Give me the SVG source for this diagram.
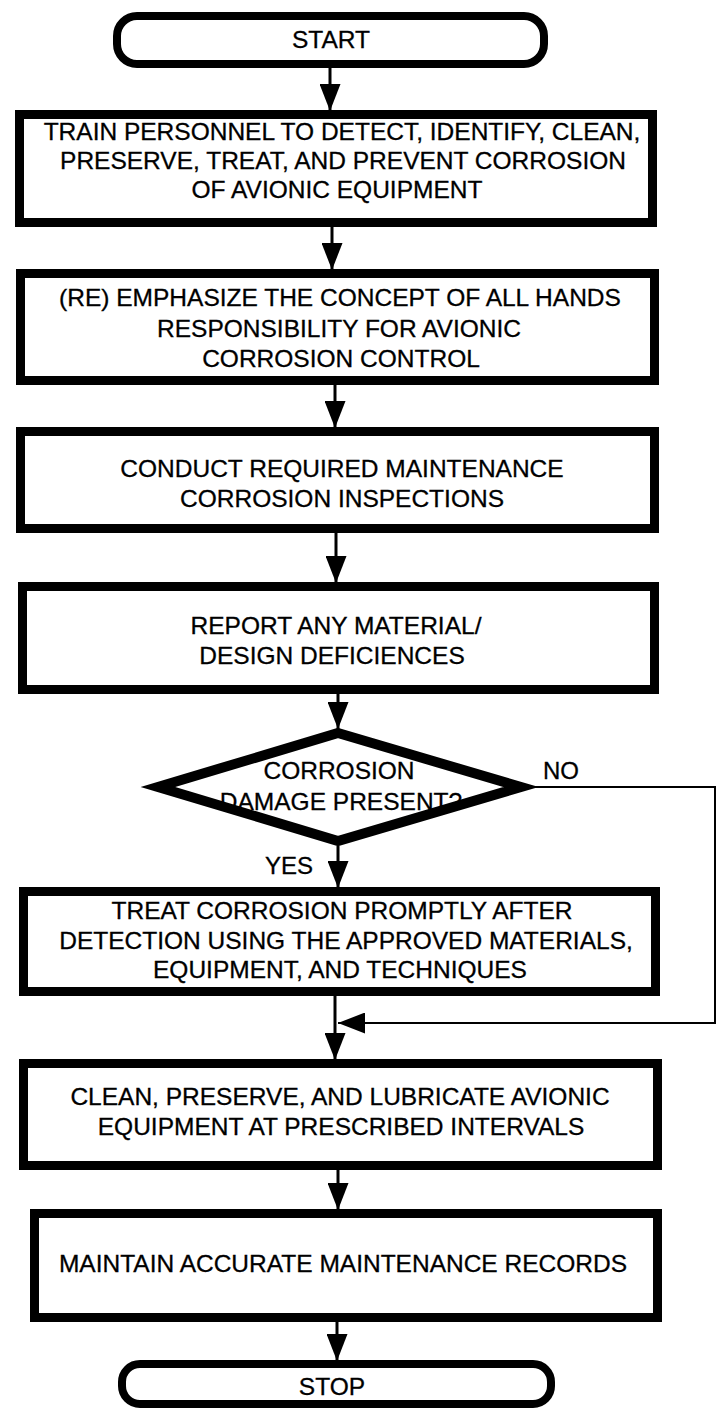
<svg xmlns="http://www.w3.org/2000/svg" width="719" height="1426" viewBox="0 0 719 1426">
<style>
  .box { fill: #fff; stroke: #000; stroke-width: 9; }
  .term { fill: #fff; stroke: #000; stroke-width: 8; }
  .dia { fill: #fff; stroke: #000; stroke-width: 10; stroke-linejoin: miter; stroke-miterlimit: 6; }
  .t { font-family: "Liberation Sans", Arial, Helvetica, sans-serif; font-size: 24.5px; fill: #000; stroke: #000; stroke-width: 0.3; text-anchor: middle; }
  .lbl { font-family: "Liberation Sans", Arial, Helvetica, sans-serif; font-size: 24px; fill: #000; stroke: #000; stroke-width: 0.3; }
  .c { fill: none; stroke: #000; stroke-width: 3; }
  .loop { fill: none; stroke: #000; stroke-width: 2; }
</style>
<defs>
  <marker id="ah" viewBox="0 0 27 21" refX="27" refY="10.5" markerWidth="27" markerHeight="21" markerUnits="userSpaceOnUse" orient="auto">
    <path d="M0,0 L27,10.5 L0,21 z" fill="#000"/>
  </marker>
</defs>
<rect width="719" height="1426" fill="#fff"/>

<g id="connectors">
  <path class="c" d="M330,68 V111" marker-end="url(#ah)"/>
  <path class="c" d="M332,227 V270" marker-end="url(#ah)"/>
  <path class="c" d="M335,385 V428" marker-end="url(#ah)"/>
  <path class="c" d="M336,533 V583" marker-end="url(#ah)"/>
  <path class="c" d="M338,694 V729" marker-end="url(#ah)"/>
  <path class="c" d="M338,846 V888" marker-end="url(#ah)"/>
  <path class="c" d="M335,996 V1060" marker-end="url(#ah)"/>
  <path class="loop" d="M530,787 H715 V1023 H338" marker-end="url(#ah)"/>
  <path class="c" d="M338,1170 V1210" marker-end="url(#ah)"/>
  <path class="c" d="M337,1322 V1361" marker-end="url(#ah)"/>
</g>

<g id="start">
  <rect class="term" x="117" y="16" width="427" height="48" rx="20"/>
  <text class="t" x="331" y="48">START</text>
</g>

<g id="train">
  <rect class="box" x="19.5" y="114.5" width="633" height="108"/>
  <text class="t" x="342" y="140">TRAIN PERSONNEL TO DETECT, IDENTIFY, CLEAN,</text>
  <text class="t" x="343" y="169">PRESERVE, TREAT, AND PREVENT CORROSION</text>
  <text class="t" x="337" y="198">OF AVIONIC EQUIPMENT</text>
</g>

<g id="emphasize">
  <rect class="box" x="20.5" y="273.5" width="634" height="107"/>
  <text class="t" x="340" y="306">(RE) EMPHASIZE THE CONCEPT OF ALL HANDS</text>
  <text class="t" x="339" y="337">RESPONSIBILITY FOR AVIONIC</text>
  <text class="t" x="341" y="367">CORROSION CONTROL</text>
</g>

<g id="conduct">
  <rect class="box" x="20.5" y="431.5" width="634" height="97"/>
  <text class="t" x="342" y="477">CONDUCT REQUIRED MAINTENANCE</text>
  <text class="t" x="342" y="507">CORROSION INSPECTIONS</text>
</g>

<g id="report">
  <rect class="box" x="22.5" y="586.5" width="632" height="103"/>
  <text class="t" x="336" y="634">REPORT ANY MATERIAL/</text>
  <text class="t" x="332" y="664">DESIGN DEFICIENCES</text>
</g>

<g id="decision">
  <polygon class="dia" points="338,733 521,787 338,841 158,787"/>
  <text class="t" x="339" y="779">CORROSION</text>
  <text class="t" x="341" y="810">DAMAGE PRESENT?</text>
  <text class="lbl" x="543" y="779">NO</text>
  <text class="lbl" x="265" y="874">YES</text>
</g>

<g id="treat">
  <rect class="box" x="23.5" y="891.5" width="632" height="100"/>
  <text class="t" x="342" y="919">TREAT CORROSION PROMPTLY AFTER</text>
  <text class="t" x="346" y="949">DETECTION USING THE APPROVED MATERIALS,</text>
  <text class="t" x="340" y="978">EQUIPMENT, AND TECHNIQUES</text>
</g>

<g id="clean">
  <rect class="box" x="23.5" y="1063.5" width="634" height="102"/>
  <text class="t" x="340" y="1105">CLEAN, PRESERVE, AND LUBRICATE AVIONIC</text>
  <text class="t" x="341" y="1135">EQUIPMENT AT PRESCRIBED INTERVALS</text>
</g>

<g id="records">
  <rect class="box" x="34.5" y="1213.5" width="623" height="104"/>
  <text class="t" x="343" y="1272">MAINTAIN ACCURATE MAINTENANCE RECORDS</text>
</g>

<g id="stop">
  <rect class="term" x="122" y="1364" width="429" height="40" rx="18"/>
  <text class="t" x="332" y="1395">STOP</text>
</g>
</svg>
